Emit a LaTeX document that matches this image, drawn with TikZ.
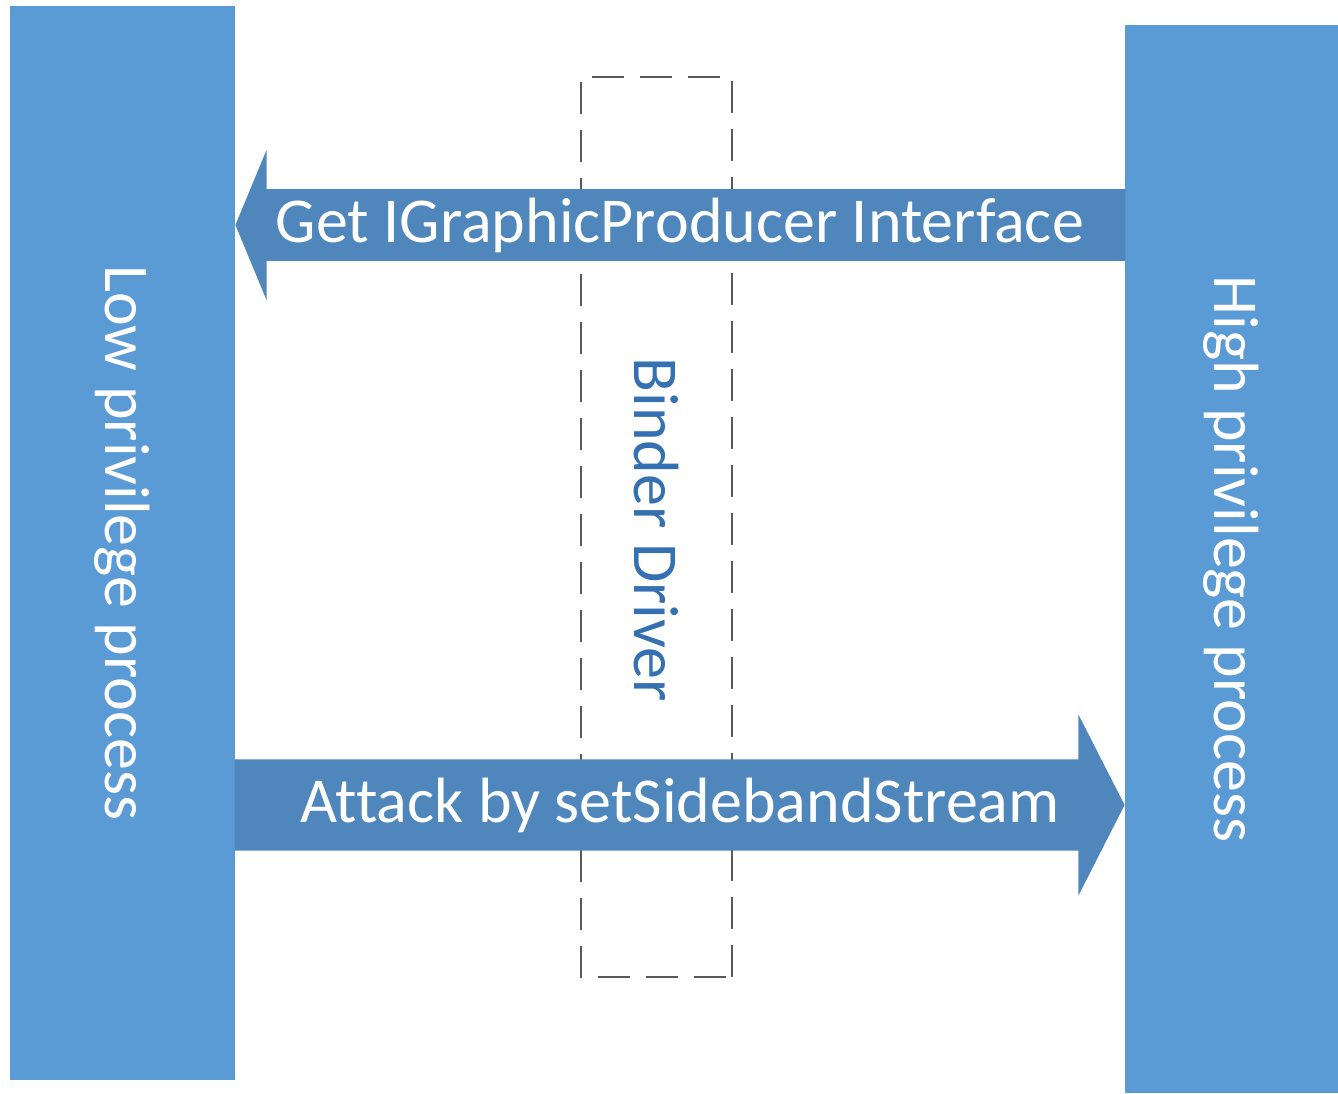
\documentclass[tikz,border=0pt]{standalone}
\usepackage{fontspec}
\setmainfont{Carlito}[Ligatures=NoCommon]
\usepackage{xcolor}
\definecolor{procblue}{RGB}{91,155,213}
\definecolor{arrowblue}{RGB}{79,135,188}
\definecolor{bindertext}{RGB}{52,112,178}
\usetikzlibrary{shapes.arrows, positioning}

\begin{document}
\begin{tikzpicture}[
            x=0.5pt, y=-0.5pt,
            procbar/.style={shape=rectangle, fill=procblue, draw=none, rotate=-90, text=white, inner sep=0pt, font=\fontsize{32}{38}\selectfont},
            bindbox/.style={shape=rectangle, draw=black!65, line width=1pt, dash pattern=on 16pt off 8pt, fill=none, rotate=-90, inner sep=0pt},
            blockarrow/.style={shape=single arrow, fill=arrowblue, draw=none, text=white, inner xsep=0pt, minimum height=445pt, font=\fontsize{32}{38}\selectfont}
            ]

            % Frame
            \useasboundingbox (0,0) rectangle (1338,1093);

            % Processes
            \node[procbar, minimum width=537pt, minimum height=112.5pt] (low) at (122.5,543) {Low privilege process};
            \node[procbar, minimum width=534pt, minimum height=106.5pt] (high) at (1231.5,559) {High privilege process};

            % Binder
            \node[bindbox, minimum width=450pt, minimum height=75.5pt] (binder) at (656.5,527) {};

            % Calls through the binder
            \node[blockarrow, shape border rotate=180, inner ysep=3pt, minimum width=75pt, single arrow head extend=18.5pt, single arrow tip angle=135, anchor=tip] (getif) at (235,225) {Get IGraphicProducer Interface\hspace*{8pt}};
            \node[blockarrow, inner ysep=8.5pt, minimum width=90.5pt, single arrow head extend=22pt, single arrow tip angle=126, anchor=tip] (attack) at (1125,805) {\hspace*{12pt}Attack by setSidebandStream};

            \node[rotate=-90, text=bindertext, font=\fontsize{32}{38}\selectfont] (bindlabel) at (656,530) {Binder Driver};
\end{tikzpicture}
\end{document}
